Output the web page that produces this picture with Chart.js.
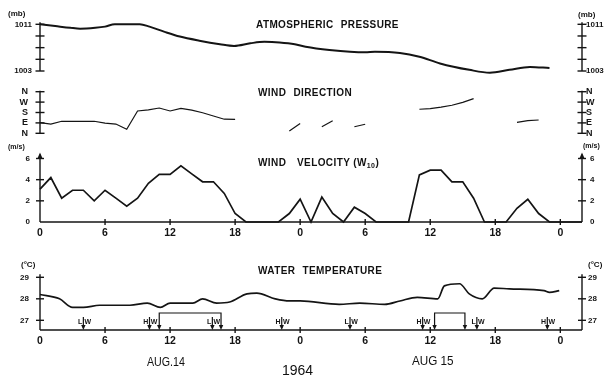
<!DOCTYPE html>
<html><head><meta charset="utf-8">
<script src="https://cdn.jsdelivr.net/npm/chart.js@4.4.1/dist/chart.umd.min.js"></script>
<style>
html,body{margin:0;padding:0;background:#fff;}
body{width:613px;height:379px;position:relative;overflow:hidden;font-family:"Liberation Sans",Arial,sans-serif;color:#111;}
canvas{position:absolute;left:0;}
.t{position:absolute;white-space:nowrap;font-weight:bold;line-height:1;}
.ttl{font-size:10px;letter-spacing:0.4px;word-spacing:4px;}
.u{font-size:8px;}
.u7{font-size:7px;}
.big{font-weight:normal;transform-origin:0 50%;}
sub{font-size:7px;vertical-align:-2px;line-height:1;}
</style></head><body>
<canvas id="cP" width="613" height="87" style="top:4px"></canvas>
<canvas id="cD" width="613" height="82" style="top:71px"></canvas>
<canvas id="cV" width="613" height="106" style="top:138px"></canvas>
<canvas id="cT" width="613" height="122" style="top:257px"></canvas>

<div class="t ttl" style="left:256px;top:19.5px">ATMOSPHERIC PRESSURE</div>
<div class="t ttl" style="left:258px;top:87.5px">WIND DIRECTION</div>
<div class="t ttl" style="left:258px;top:158px">WIND</div>
<div class="t ttl" style="left:297px;top:158px;word-spacing:0">VELOCITY (W<sub>10</sub>)</div>
<div class="t ttl" style="left:258px;top:265.5px">WATER TEMPERATURE</div>

<div class="t u" style="left:8px;top:10px">(mb)</div>
<div class="t u" style="left:578px;top:11px">(mb)</div>
<div class="t u7" style="left:8px;top:143px">(m/s)</div>
<div class="t u7" style="left:583px;top:141.5px">(m/s)</div>
<div class="t u" style="left:21px;top:261px">(°C)</div>
<div class="t u" style="left:588px;top:261px">(°C)</div>

<div class="t big" style="left:147px;top:355px;font-size:13px;transform:scaleX(0.82)">AUG.14</div>
<div class="t big" style="left:412px;top:354px;font-size:13px;transform:scaleX(0.9)">AUG 15</div>
<div class="t big" style="left:282px;top:362.5px;font-size:14px">1964</div>

<script>
// ---------- data ----------
const hourTicks = [0, 6, 12, 18, 24, 30, 36, 42, 48];
const hourLabels = ['0', '6', '12', '18', '0', '6', '12', '18', '0'];

const pressureHours = [0, 1.4, 2.8, 3.7, 5.1, 6.0, 6.9, 9.2, 10.1, 11.5, 12.9, 14.7, 16.6, 17.9, 19.4, 20.7, 22.1, 23.5, 24.5, 26.7, 30.0, 30.9, 33.2, 35.0, 36.9, 39.6, 41.5, 43.3, 45.2, 47.0];
const pressureMb = [1011.0, 1010.7, 1010.4, 1010.25, 1010.4, 1010.6, 1011.0, 1011.0, 1010.6, 1009.7, 1008.9, 1008.2, 1007.6, 1007.3, 1007.75, 1008.0, 1007.9, 1007.6, 1007.15, 1006.6, 1006.2, 1006.3, 1006.1, 1005.45, 1004.3, 1003.2, 1002.7, 1003.2, 1003.7, 1003.5];
const pressureTicks = [1003, 1005, 1007, 1009, 1011];
const pressureTickLabels = ['1003', '', '', '', '1011'];

const dirHours = [0,1,2,3,4,5,6,7,8,9,10,11,12,13,14,15,16,17,18,19,20,21,22,23,24,25,26,27,28,29,30,31,32,33,34,35,36,37,38,39,40,41,42,43,44,45,46];
const dirDegrees = [92,80,104,104,104,104,88,80,35,193,202,219,193,216,200,178,150,122,121,null,null,null,null,20,85,null,57,109,null,57,78,null,null,null,null,208,214,226,243,268,300,null,null,null,95,109,115];
const dirTicks = [0, 90, 180, 270, 360];
const dirTickLabels = ['N', 'E', 'S', 'W', 'N'];

const velHours = [0,1,2,3,4,5,6,7,8,9,10,11,12,13,14,15,16,17,18,19,20,21,22,23,24,25,26,27,28,29,30,31,32,33,34,35,36,37,38,39,40,41,42,43,44,45,46,47,48,49,50];
const velMs = [3.1,4.2,2.25,3.0,3.0,2.0,3.0,2.25,1.5,2.25,3.65,4.5,4.5,5.3,4.55,3.8,3.8,2.7,0.8,0,0,0,0,0.8,2.15,0,2.35,0.8,0,1.4,0.8,0,0,0,0,4.45,4.9,4.9,3.8,3.8,2.25,0,0,0,1.3,2.15,0.8,0,0,0,0];
const velTicks = [0, 2, 4, 6];
const velTickLabels = ['0', '2', '4', '6'];

const tempHours = [0, 1.8, 3.0, 4.0, 5.5, 8.3, 9.9, 11.1, 12.0, 14.1, 15.0, 16.3, 17.5, 19.1, 20.0, 21.7, 23.0, 24.0, 27.6, 29.5, 31.8, 33.2, 34.8, 36.7, 37.3, 38.7, 39.6, 40.8, 41.9, 43.3, 46.5, 47.0, 47.9];
const tempC = [28.2, 28.0, 27.6, 27.6, 27.7, 27.7, 27.8, 27.6, 27.8, 27.8, 28.0, 27.8, 27.85, 28.23, 28.26, 28.0, 27.9, 27.9, 27.74, 27.8, 27.74, 27.9, 28.07, 28.0, 28.6, 28.7, 28.23, 28.0, 28.5, 28.46, 28.38, 28.3, 28.38];
const tempTicks = [27, 28, 29];
const tempTickLabels = ['27', '28', '29'];

const tideHours = [4.0, 10.1, 15.9, 22.3, 28.6, 35.3, 40.3, 46.8];
const tideTypes = ['L', 'H', 'L', 'H', 'L', 'H', 'L', 'H'];
const spanStarts = [11.0, 36.4];
const spanEnds = [16.7, 39.2];

// ---------- styling / helpers ----------
const INK = '#141414';
const FONT = '"Liberation Sans", Arial, sans-serif';
Chart.defaults.font.family = FONT;
Chart.defaults.color = INK;

const axisDeco = {
  id: 'axisDeco',
  afterDatasetsDraw(chart, _a, o) {
    const {ctx, chartArea: ca, scales} = chart;
    ctx.save();
    ctx.strokeStyle = INK; ctx.fillStyle = INK; ctx.lineWidth = o.lw || 1.4;
    const seg = (x1, y1, x2, y2) => { ctx.beginPath(); ctx.moveTo(x1, y1); ctx.lineTo(x2, y2); ctx.stroke(); };
    ['y', 'y2'].forEach(id => {
      const s = scales[id]; if (!s) return;
      const x = id === 'y' ? ca.left : ca.right;
      const top = ca.top - (o.ext || 0);
      seg(x, top, x, ca.bottom);
      s.ticks.forEach(t => {
        if (o.skipMin && t.value === s.min) return;
        const py = s.getPixelForValue(t.value);
        seg(x - o.tick, py, x + o.tick, py);
      });
      if (o.arrow) {
        ctx.beginPath(); ctx.moveTo(x, top - 2); ctx.lineTo(x - 2.6, top + 4); ctx.lineTo(x + 2.6, top + 4); ctx.closePath(); ctx.fill();
      }
    });
    if (o.xAxis) {
      const sx = scales.x;
      seg(ca.left, ca.bottom, ca.right, ca.bottom);
      sx.ticks.forEach(t => {
        if (t.value === sx.min) return;
        const px = sx.getPixelForValue(t.value);
        seg(px, ca.bottom - o.xtick, px, ca.bottom + o.xtick);
      });
    }
    ctx.restore();
  }
};
Chart.register(axisDeco);

const tidePlugin = {
  id: 'tides',
  afterDatasetsDraw(chart) {
    const {ctx, chartArea: ca, scales: {x}} = chart;
    const base = ca.bottom;
    ctx.save();
    ctx.strokeStyle = INK; ctx.fillStyle = INK; ctx.lineWidth = 1.2;
    const arrowDown = (px, y) => { ctx.beginPath(); ctx.moveTo(px, y); ctx.lineTo(px - 2.2, y - 5); ctx.lineTo(px + 2.2, y - 5); ctx.closePath(); ctx.fill(); };
    ctx.font = 'bold 7px ' + FONT; ctx.textBaseline = 'middle';
    tideHours.forEach((h, i) => {
      const px = x.getPixelForValue(h);
      ctx.beginPath(); ctx.moveTo(px, base - 13); ctx.lineTo(px, base - 2); ctx.stroke();
      arrowDown(px, base);
      ctx.textAlign = 'right'; ctx.fillText(tideTypes[i], px - 1.2, base - 8);
      ctx.textAlign = 'left'; ctx.fillText('W', px + 1.2, base - 8);
    });
    spanStarts.forEach((h, i) => {
      const p1 = x.getPixelForValue(h), p2 = x.getPixelForValue(spanEnds[i]);
      const top = base - 17;
      ctx.beginPath(); ctx.moveTo(p1, base - 3); ctx.lineTo(p1, top); ctx.lineTo(p2, top); ctx.lineTo(p2, base - 3); ctx.stroke();
      arrowDown(p1, base); arrowDown(p2, base);
    });
    ctx.restore();
  }
};

function yAxis(pos, min, max, ticks, labels, width, pad, size) {
  return {
    type: 'linear', position: pos, min, max,
    afterFit: s => { s.width = width; },
    afterBuildTicks: s => { s.ticks = ticks.map(v => ({value: v})); },
    grid: {display: false, drawTicks: false},
    border: {display: false},
    ticks: {padding: pad, autoSkip: false, font: {size, weight: 'bold'}, color: INK, callback: (v, i) => labels[i]}
  };
}
function xAxis(show) {
  return {
    type: 'linear', min: 0, max: 50, display: show,
    afterFit: s => { s.height = show ? 20 : 0; },
    afterBuildTicks: s => { s.ticks = hourTicks.map(v => ({value: v})); },
    grid: {display: false, drawTicks: false},
    border: {display: false},
    ticks: {padding: 4.5, autoSkip: false, maxRotation: 0, font: {size: 10.5, weight: 'bold'}, color: INK, callback: (v, i) => hourLabels[i]}
  };
}
function series(hours, vals, width, smooth) {
  return {
    data: hours.map((h, i) => ({x: h, y: vals[i]})),
    borderColor: INK, borderWidth: width, pointRadius: 0, fill: false,
    spanGaps: false, clip: false, tension: smooth ? 0.4 : 0,
    cubicInterpolationMode: smooth ? 'monotone' : 'default'
  };
}
function opts(padTop, padBottom, scales, deco) {
  return {
    responsive: false, animation: false, devicePixelRatio: 1, events: [],
    layout: {padding: {top: padTop, bottom: padBottom, left: 0, right: 0}},
    plugins: {legend: {display: false}, tooltip: {enabled: false}, axisDeco: deco},
    scales
  };
}

// ---------- charts ----------
// pressure: plot area y 24.3 .. 71
new Chart(document.getElementById('cP'), {
  type: 'line',
  data: {datasets: [series(pressureHours, pressureMb, 2, true)]},
  options: opts(20.3, 20, {
    x: xAxis(false),
    y: yAxis('left', 1003, 1011, pressureTicks, pressureTickLabels, 40, 8, 8),
    y2: yAxis('right', 1003, 1011, pressureTicks, pressureTickLabels, 31, 4, 8)
  }, {tick: 4.5, ext: 2, lw: 1.4})
});

// direction: plot area y 91.7 .. 133.3
new Chart(document.getElementById('cD'), {
  type: 'line',
  data: {datasets: [series(dirHours, dirDegrees, 1.2, false)]},
  options: opts(20.7, 19.7, {
    x: xAxis(false),
    y: yAxis('left', 0, 360, dirTicks, dirTickLabels, 40, 12, 9),
    y2: yAxis('right', 0, 360, dirTicks, dirTickLabels, 31, 4, 9)
  }, {tick: 4.5, ext: 1, lw: 1.4})
});

// velocity: plot area y 158.5 .. 222
new Chart(document.getElementById('cV'), {
  type: 'line',
  data: {datasets: [series(velHours, velMs, 1.7, false)]},
  options: opts(20.5, 2, {
    x: xAxis(true),
    y: yAxis('left', 0, 6, velTicks, velTickLabels, 40, 10, 8),
    y2: yAxis('right', 0, 6, velTicks, velTickLabels, 31, 8, 8)
  }, {tick: 4, ext: 4, arrow: true, skipMin: true, xAxis: true, xtick: 3, lw: 1.4})
});

// temperature: plot area y 277.3 .. 330
new Chart(document.getElementById('cT'), {
  type: 'line',
  data: {datasets: [series(tempHours, tempC, 1.7, true)]},
  options: opts(20.3, 29, {
    x: xAxis(true),
    y: yAxis('left', 26.55, 29, tempTicks, tempTickLabels, 40, 11, 8),
    y2: yAxis('right', 26.55, 29, tempTicks, tempTickLabels, 31, 6, 8)
  }, {tick: 4, ext: 3, xAxis: true, xtick: 3, lw: 1.4}),
  plugins: [tidePlugin]
});
</script>
</body></html>
